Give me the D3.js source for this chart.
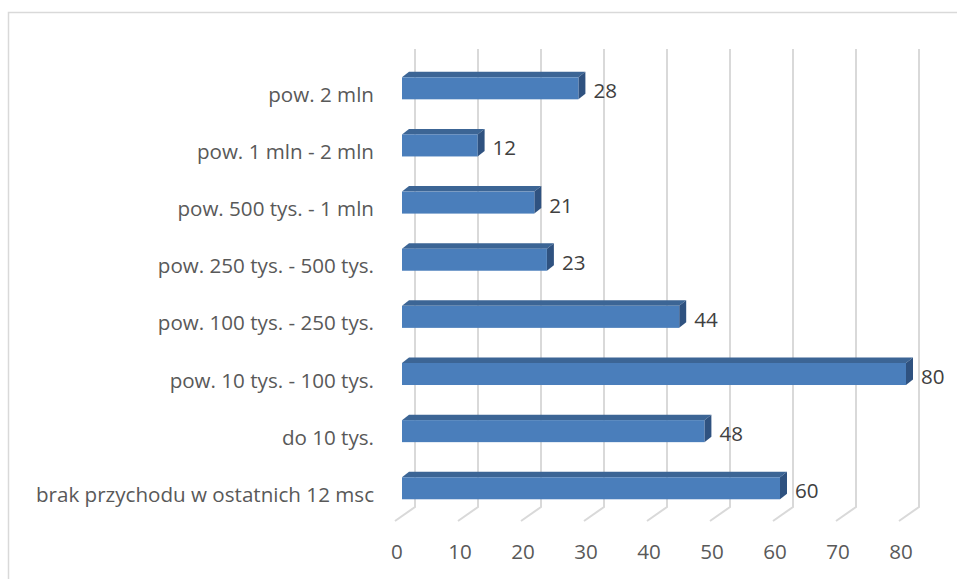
<!DOCTYPE html>
<html><head><meta charset="utf-8">
<script src="https://cdn.jsdelivr.net/npm/d3@7"></script>
<style>body{margin:0;background:#fff}svg{display:block}</style>
</head><body>
<svg id="c" width="957" height="579"></svg>
<script>
const categories = ["pow. 2 mln","pow. 1 mln - 2 mln","pow. 500 tys. - 1 mln","pow. 250 tys. - 500 tys.","pow. 100 tys. - 250 tys.","pow. 10 tys. - 100 tys.","do 10 tys.","brak przychodu w ostatnich 12 msc"];
const values = [28,12,21,23,44,80,48,60];
const ticks = [0,10,20,30,40,50,60,70,80];

const svg = d3.select("#c");
const font = "'Open Sans', sans-serif";
const fs = 20.6;

// chart border
svg.append("rect").attr("x",8.5).attr("y",12.5).attr("width",1200).attr("height",800)
  .attr("fill","none").attr("stroke","#d9d9d9").attr("stroke-width",1.5);

const y = d3.scaleBand().domain(categories).range([59.75,516.85]).paddingInner(0.615).paddingOuter(0.3075);
const xFront = d3.scaleLinear().domain([0,80]).range([402,906]);
const xBack = d3.scaleLinear().domain([0,80]).range([415,919]);
const xFloor = d3.scaleLinear().domain([0,80]).range([395,899]);
const wallTop = 49, wallBottom = 507, floorFront = 521;
const ddx = 7, ddy = -5.5;

// gridlines (back wall + floor)
svg.append("g").selectAll("path").data(ticks).join("path")
  .attr("d", t => `M${xBack(t)},${wallTop}L${xBack(t)},${wallBottom}L${xFloor(t)},${floorFront}`)
  .attr("fill","none").attr("stroke","#d9d9d9").attr("stroke-width",2);

// tick labels
svg.append("g").selectAll("text").data(ticks).join("text")
  .attr("x", t => xFloor(t)+2).attr("y", 559).attr("text-anchor","middle")
  .attr("font-family",font).attr("font-size",fs).attr("fill","#595959").text(t => t);

// bars
const data = categories.map((c,i)=>({c, v: values[i]}));
const g = svg.append("g");
const bars = g.selectAll("g").data(data).join("g");
bars.append("path").attr("fill","#3c6595")
  .attr("d", d => { const x0=xFront(0), x1=xFront(d.v), t=y(d.c);
    return `M${x0},${t}L${x0+ddx},${t+ddy}L${x1+ddx},${t+ddy}L${x1},${t}Z`; });
bars.append("path").attr("fill","#2f5280")
  .attr("d", d => { const x1=xFront(d.v), t=y(d.c), b=t+y.bandwidth();
    return `M${x1},${t}L${x1+ddx},${t+ddy}L${x1+ddx},${b+ddy}L${x1},${b}Z`; });
bars.append("rect").attr("fill","#4a7ebb")
  .attr("x", xFront(0)).attr("y", d => y(d.c))
  .attr("width", d => xFront(d.v)-xFront(0)).attr("height", y.bandwidth());

// value labels
svg.append("g").selectAll("text").data(data).join("text")
  .attr("x", d => xFront(d.v)+ddx+8).attr("y", d => y(d.c)+y.bandwidth()/2+10)
  .attr("font-family",font).attr("font-size",fs).attr("fill","#404040").text(d => d.v);

// category labels
svg.append("g").selectAll("text").data(categories).join("text")
  .attr("x", 374).attr("y", d => y(d)+y.bandwidth()/2+13.5).attr("text-anchor","end")
  .attr("font-family",font).attr("font-size",fs).attr("fill","#595959").text(d => d);
</script>
</body></html>
